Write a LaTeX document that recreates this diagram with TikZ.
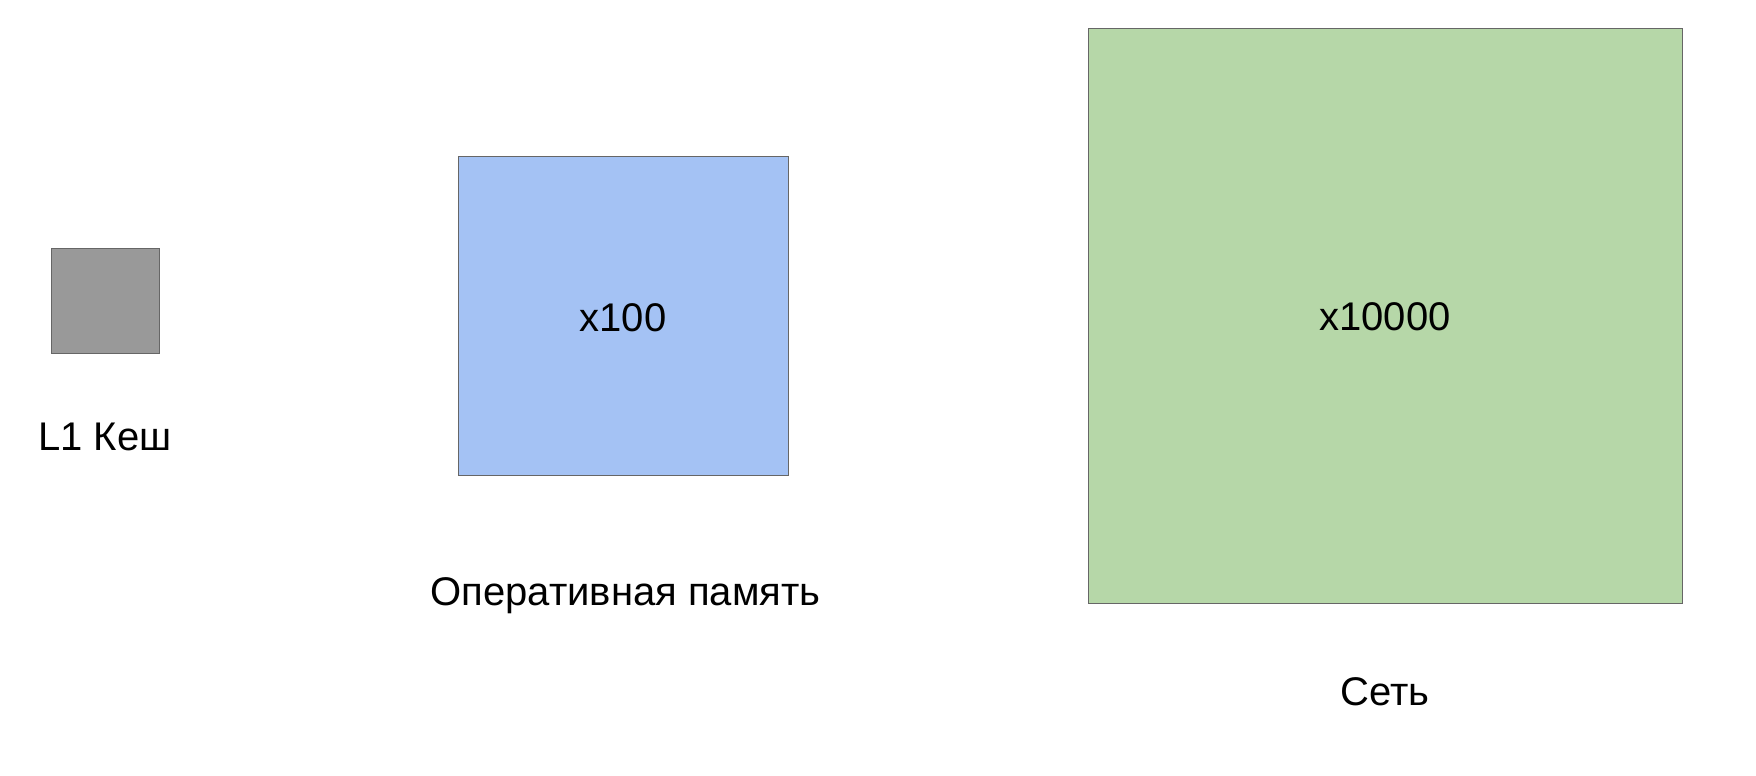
\documentclass[tikz,border=0pt]{standalone}
\usepackage{fontspec}
\setmainfont{Liberation Sans}
\definecolor{cachegray}{HTML}{999999}
\definecolor{ramblue}{HTML}{A4C2F4}
\definecolor{netgreen}{HTML}{B6D7A8}
\definecolor{edgegray}{HTML}{666666}
\begin{document}
\begin{tikzpicture}[x=1pt,y=-1pt,
  block/.style={draw=edgegray, line width=0.8pt, inner sep=0pt, outer sep=0pt},
  caption/.style={anchor=base, inner sep=0pt, font=\fontsize{40}{46}\selectfont, text=black}]
\useasboundingbox (0,0) rectangle (1756,776);
\fill[white] (0,0) rectangle (1756,776);
\node[block, fill=cachegray, minimum width=108pt, minimum height=105pt] (cache) at (105,300.5) {};
\node[block, fill=ramblue, minimum width=330pt, minimum height=319pt] (ram) at (623,315.7) {};
\node[block, fill=netgreen, minimum width=594pt, minimum height=575pt] (net) at (1385,315.5) {};
\node[caption] (ramx) at (623,331) {x100};
\node[caption] (netx) at (1385,330.5) {x10000};
\node[caption] (cachelbl) at (105,450) {L1 Кеш};
\node[caption] (ramlbl) at (625.5,605) {Оперативная память};
\node[caption] (netlbl) at (1385,705) {Сеть};
\end{tikzpicture}
\end{document}
